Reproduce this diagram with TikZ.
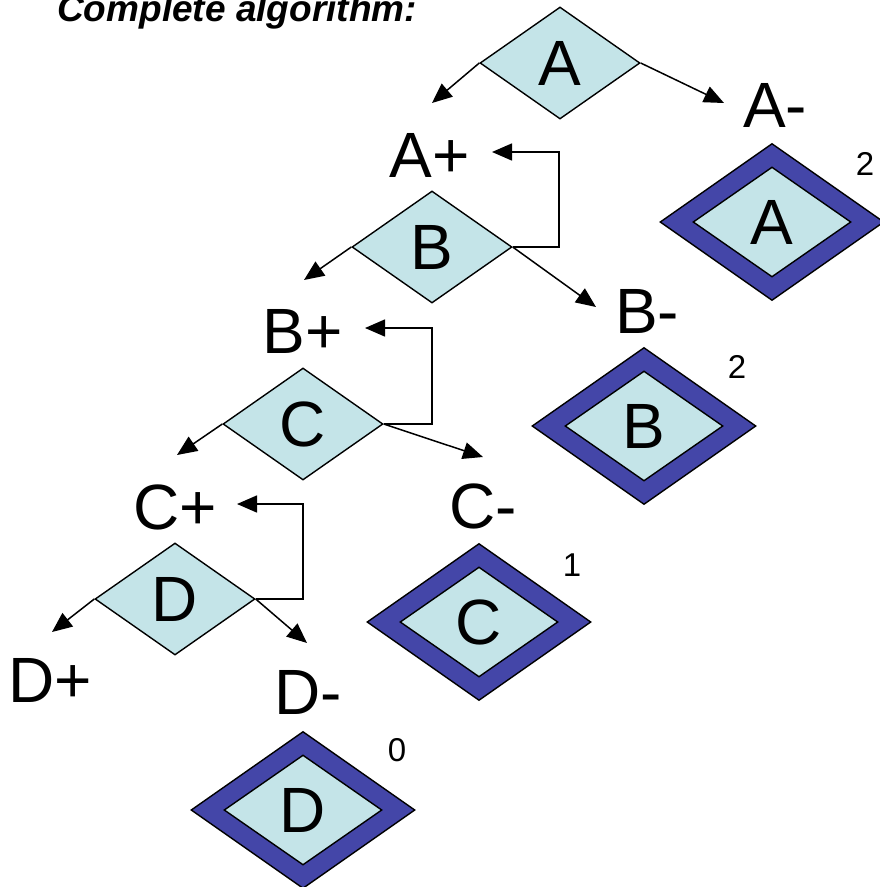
\documentclass[tikz,border=0pt]{standalone}
\usepackage{fontspec}
\setmainfont{Liberation Sans}
\usetikzlibrary{shapes.geometric,arrows.meta}
\definecolor{lblue}{RGB}{196,228,232}
\definecolor{dblue}{RGB}{68,70,168}
\begin{document}
\begin{tikzpicture}[x=1pt,y=-1pt,
  dec/.style={diamond,aspect=1.43,draw=black,line width=1.4pt,fill=lblue,minimum width=160pt,minimum height=112pt,inner sep=0pt,font=\fontsize{64}{64}\selectfont},
  outerd/.style={diamond,aspect=1.43,draw=black,line width=1.4pt,fill=dblue,minimum width=224pt,minimum height=157pt,inner sep=0pt},
  innerd/.style={dec,minimum width=158pt,minimum height=110pt},
  lbl/.style={inner sep=0pt,font=\fontsize{64}{64}\selectfont},
  num/.style={inner sep=0pt,font=\fontsize{33}{33}\selectfont},
  arr/.style={line width=1.5pt,-{Triangle[length=20pt,width=17pt]}}]
\useasboundingbox (0,0) rectangle (880,887);

% title
\node[anchor=base west,inner sep=0pt,font=\fontsize{37}{37}\selectfont\bfseries\itshape] (title) at (57,21) {Complete algorithm:};

% decision diamonds
\node[dec] (A) at (560,63) {A};
\node[dec] (B) at (432,247) {B};
\node[dec] (C) at (303,424) {C};
\node[dec] (D) at (175,599) {D};

% labels
\node[lbl] (Ap) at (430,155) {A+};
\node[lbl] (Bp) at (303,331) {B+};
\node[lbl] (Cp) at (175,507) {C+};
\node[lbl] (Dp) at (50,680) {D+};
\node[lbl] (Am) at (775,105) {A-};
\node[lbl] (Bm) at (647,311) {B-};
\node[lbl] (Cm) at (483,506) {C-};
\node[lbl] (Dm) at (308,692) {D-};

% outer (pruned) diamonds
\node[outerd] (A2o) at (772,222) {};
\node[innerd] (A2) at (772,222) {A};
\node[outerd] (B2o) at (644,426) {};
\node[innerd] (B2) at (644,426) {B};
\node[outerd] (C2o) at (479,622) {};
\node[innerd] (C2) at (479,622) {C};
\node[outerd] (D2o) at (303,810) {};
\node[innerd] (D2) at (303,810) {D};

% numbers
\node[num] (nA) at (865,164) {2};
\node[num] (nB) at (737,367) {2};
\node[num] (nC) at (572,565) {1};
\node[num] (nD) at (397,750) {0};

% arrow tip coordinates
\coordinate (tAl) at (432,103);
\coordinate (tAr) at (724,103);
\coordinate (tBl) at (304,280);
\coordinate (tBr) at (596,307);
\coordinate (tCl) at (177,455);
\coordinate (tCr) at (483,457);
\coordinate (tDl) at (52,632);
\coordinate (tDr) at (307,643);
% loop corners and tips
\coordinate (kB) at (559,152);
\coordinate (tAp) at (492,152);
\coordinate (kC) at (432,328);
\coordinate (tBp) at (365,328);
\coordinate (kD) at (303,504);
\coordinate (tCp) at (237,504);

% connectors
\draw[arr] (A.west) -- (tAl);
\draw[arr] (A.east) -- (tAr);
\draw[arr] (B.west) -- (tBl);
\draw[arr] (B.east) -- (tBr);
\draw[arr] (C.west) -- (tCl);
\draw[arr] (C.east) -- (tCr);
\draw[arr] (D.west) -- (tDl);
\draw[arr] (D.east) -- (tDr);
\draw[arr] (B.east) -| (kB) -- (tAp);
\draw[arr] (C.east) -| (kC) -- (tBp);
\draw[arr] (D.east) -| (kD) -- (tCp);
\end{tikzpicture}
\end{document}
